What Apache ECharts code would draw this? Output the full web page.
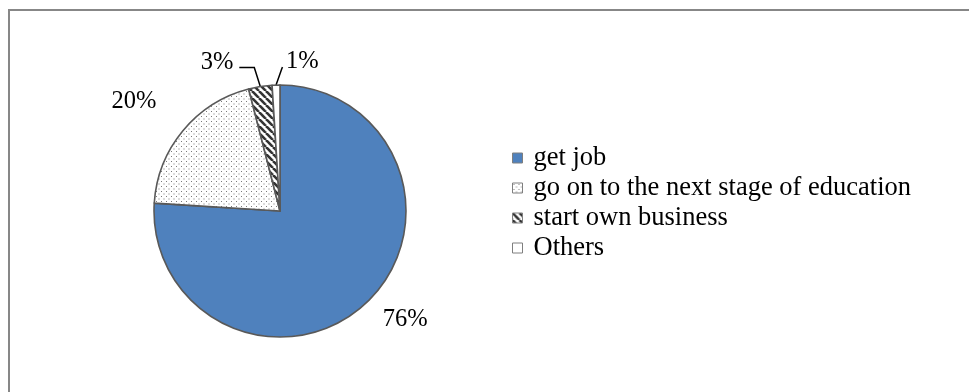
<!DOCTYPE html>
<html><head><meta charset="utf-8">
<script src="https://cdn.jsdelivr.net/npm/echarts@6/dist/echarts.min.js"></script>
<style>
html,body{margin:0;padding:0;background:#fff;}
#frame{position:absolute;left:8px;top:9px;width:1000px;height:420px;border-top:2px solid #878787;border-left:2px solid #878787;}
#c{position:absolute;left:0;top:0;width:969px;height:392px;}
</style>
</head><body>
<div id="frame"></div>
<div id="c"></div>
<script>
const categories = ['get job', 'go on to the next stage of education', 'start own business', 'Others'];
const values = [76, 20, 3, 1];

function dotPattern() {
  const c = document.createElement('canvas');
  c.width = 5; c.height = 5;
  const g = c.getContext('2d');
  g.fillStyle = '#fff'; g.fillRect(0, 0, 5, 5);
  g.fillStyle = '#7a7a7a';
  g.fillRect(1, 1, 1, 1);
  g.fillRect(3.5, 3.5, 1, 1);
  return c;
}
function stripePattern() {
  const s = 7;
  const c = document.createElement('canvas');
  c.width = s; c.height = s;
  const g = c.getContext('2d');
  g.fillStyle = '#fff'; g.fillRect(0, 0, s, s);
  g.strokeStyle = '#333'; g.lineWidth = 2.6;
  for (let k = -1; k <= 1; k++) {
    g.beginPath();
    g.moveTo(k * s, 0); g.lineTo(k * s + s, s);
    g.stroke();
  }
  return c;
}
const colors = [
  '#4F81BD',
  { image: dotPattern(), repeat: 'repeat' },
  { image: stripePattern(), repeat: 'repeat' },
  '#ffffff'
];

const chart = echarts.init(document.getElementById('c'));
const font = 'Liberation Serif, Times New Roman, serif';
chart.setOption({
  animation: false,
  legend: {
    orient: 'vertical',
    left: 512, top: 143, padding: 0,
    icon: 'rect',
    itemWidth: 10, itemHeight: 10, itemGap: 0,
    itemStyle: { borderColor: '#7f7f7f', borderWidth: 1 },
    textStyle: { fontFamily: font, fontSize: 26.5, color: '#000', lineHeight: 30, padding: [0, 0, 0, 6] },
    data: categories
  },
  series: [{
    type: 'pie',
    center: [280, 211],
    radius: 126,
    startAngle: 90,
    clockwise: true,
    itemStyle: { borderColor: '#595959', borderWidth: 1.6 },
    label: {
      position: 'outside',
      formatter: '{c}%',
      fontFamily: font, fontSize: 24.5, color: '#000'
    },
    labelLine: { show: true, length: 12, length2: 10, lineStyle: { color: '#000', width: 1.5 } },
    data: categories.map((n, i) => ({
      name: n, value: values[i],
      itemStyle: { color: colors[i] },
      labelLine: i < 2 ? { lineStyle: { opacity: 0, width: 0 } } : undefined
    })),
    labelLayout: function (p) {
      const p0 = p.labelLinePoints ? p.labelLinePoints[0] : null;
      if (!p0) return {};
      const i = p.dataIndex;
      if (i === 0) return { x: p0[0] + 39, y: p0[1] + 17, align: 'center', verticalAlign: 'middle' };
      if (i === 1) return { x: p0[0] - 49, y: p0[1] - 29, align: 'center', verticalAlign: 'middle' };
      if (i === 2) return {
        x: p0[0] - 27, y: p0[1] - 24, align: 'right', verticalAlign: 'middle',
        labelLinePoints: [p0, [p0[0] - 6, p0[1] - 19], [p0[0] - 21, p0[1] - 19]]
      };
      return {
        x: p0[0] + 10, y: p0[1] - 23, align: 'left', verticalAlign: 'middle',
        labelLinePoints: [p0, [p0[0] + 6, p0[1] - 17], [p0[0] + 6.5, p0[1] - 18]]
      };
    }
  }]
});
</script>
</body></html>
